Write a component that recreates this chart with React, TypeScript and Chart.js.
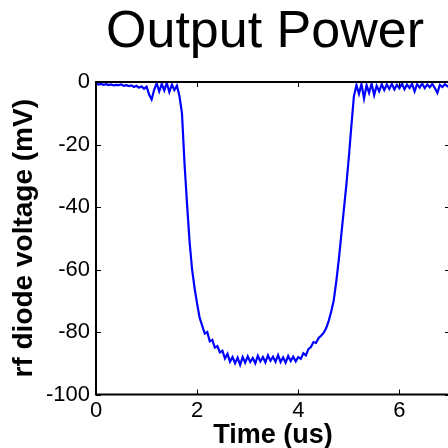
import React, { useEffect, useRef } from "react";
import { Chart, registerables } from "chart.js";

Chart.register(...registerables);

const TITLE = "Output Power";
const X_LABEL = "Time (us)";
const Y_LABEL = "rf diode voltage (mV)";
const FONT = "'Liberation Sans', Arial, Helvetica, sans-serif";

const TIME_US = [
  0.0, 0.05, 0.1, 0.15, 0.2, 0.25, 0.3, 0.35, 0.4, 0.45, 0.5, 0.55, 0.6, 0.65,
  0.7, 0.75, 0.8, 0.85, 0.9, 0.95, 1.0, 1.05, 1.1, 1.15, 1.2, 1.25, 1.3, 1.35,
  1.4, 1.45, 1.5, 1.55, 1.6, 1.65, 1.7, 1.75, 1.8, 1.85, 1.9, 1.95, 2.0, 2.05,
  2.1, 2.15, 2.2, 2.25, 2.3, 2.35, 2.4, 2.45, 2.5, 2.55, 2.6, 2.65, 2.7, 2.75,
  2.8, 2.85, 2.9, 2.95, 3.0, 3.05, 3.1, 3.15, 3.2, 3.25, 3.3, 3.35, 3.4, 3.45,
  3.5, 3.55, 3.6, 3.65, 3.7, 3.75, 3.8, 3.85, 3.9, 3.95, 4.0, 4.05, 4.1, 4.15,
  4.2, 4.25, 4.3, 4.35, 4.4, 4.45, 4.5, 4.55, 4.6, 4.65, 4.7, 4.75, 4.8, 4.85,
  4.9, 4.95, 5.0, 5.05, 5.1, 5.15, 5.2, 5.25, 5.3, 5.35, 5.4, 5.45, 5.5, 5.55,
  5.6, 5.65, 5.7, 5.75, 5.8, 5.85, 5.9, 5.95, 6.0, 6.05, 6.1, 6.15, 6.2, 6.25,
  6.3, 6.35, 6.4, 6.45, 6.5, 6.55, 6.6, 6.65, 6.7, 6.75, 6.8, 6.85, 6.9, 6.95,
  7.0,
];

const VOLTAGE_MV = [
  -0.4, -0.8, -0.6, -0.9, -0.7, -1.0, -0.8, -1.1, -0.9, -1.0, -0.8, -1.2, -1.0, -1.3,
  -1.1, -1.6, -1.2, -1.8, -1.4, -2.2, -1.5, -4.0, -5.6, -2.5, -0.4, -3.0, -0.6, -2.7,
  -0.3, -3.2, -0.8, -2.6, -1.2, -4.5, -10, -26, -39, -51, -60, -66, -71, -75.5,
  -78, -80.5, -80, -83, -82.5, -85, -84.5, -86.5, -86, -88.5, -87, -89.5, -88, -90,
  -88.2, -90.5, -88, -89.8, -87.8, -89.6, -88.3, -90, -87.6, -89.4, -88, -89.7, -87.5, -89.2,
  -87.9, -89.5, -87.4, -89.6, -88.1, -89.8, -87.7, -89.3, -87.9, -89.4, -88, -88.6, -86.8, -87.5,
  -85.5, -84.8, -83.2, -83.5, -82, -81.2, -80.3, -78.8, -76.5, -73.5, -70, -64, -57, -49,
  -41, -33, -24, -14, -4.5, -1.0, -3.8, -0.6, -5.3, -1.0, -3.5, -0.5, -4.2, -1.2,
  -3.0, -0.7, -2.6, -0.8, -2.2, -0.6, -2.4, -0.9, -2.0, -0.5, -2.3, -0.8, -1.9, -0.6,
  -3.0, -0.7, -1.8, -0.5, -2.0, -0.8, -1.7, -0.6, -1.9, -3.5, -0.9, -1.6, -0.7, -1.4,
  -0.8,
];

const X_MIN = 0;
const X_MAX = 7;
const X_STEP = 2;
const Y_MIN = -100;
const Y_MAX = 0;
const Y_STEP = 20;

const framePlugin = {
  id: "matlabFrame",
  afterDatasetsDraw(chart: any) {
    const { ctx, chartArea, scales } = chart;
    const { left, right, top, bottom } = chartArea;
    const x = scales.x;
    const y = scales.y;
    ctx.save();
    ctx.strokeStyle = "#000";
    ctx.lineWidth = 1;
    ctx.beginPath();
    const len = 5;
    x.ticks.forEach((t: any) => {
      const px = Math.round(x.getPixelForValue(t.value)) + 0.5;
      ctx.moveTo(px, bottom);
      ctx.lineTo(px, bottom - len);
      ctx.moveTo(px, top);
      ctx.lineTo(px, top + len);
    });
    y.ticks.forEach((t: any) => {
      const py = Math.round(y.getPixelForValue(t.value)) + 0.5;
      ctx.moveTo(left, py);
      ctx.lineTo(left + len, py);
      ctx.moveTo(right, py);
      ctx.lineTo(right - len, py);
    });
    ctx.stroke();
    ctx.lineWidth = 2;
    ctx.beginPath();
    ctx.rect(left, top, right - left, bottom - top);
    ctx.stroke();
    // title
    ctx.fillStyle = "#000";
    ctx.font = `52px ${FONT}`;
    ctx.textAlign = "center";
    ctx.textBaseline = "alphabetic";
    ctx.fillText(TITLE, (left + right) / 2 - 8, 47);
    ctx.restore();
  },
};

export default function App() {
  const ref = useRef<HTMLCanvasElement | null>(null);

  useEffect(() => {
    const canvas = ref.current;
    if (!canvas) return;
    const chart = new Chart(canvas, {
      type: "line",
      data: {
        datasets: [
          {
            data: TIME_US.map((t, i) => ({ x: t, y: VOLTAGE_MV[i] })),
            borderColor: "#0000ff",
            backgroundColor: "#0000ff",
            borderWidth: 2.2,
            pointRadius: 0,
            tension: 0,
            fill: false,
          },
        ],
      },
      options: {
        responsive: false,
        animation: false,
        devicePixelRatio: 1,
        layout: { padding: { left: 0, right: 10, top: 82, bottom: 0 } },
        plugins: {
          legend: { display: false },
          title: { display: false },
          tooltip: { enabled: false },
        },
        scales: {
          x: {
            type: "linear",
            min: X_MIN,
            max: X_MAX,
            ticks: {
              stepSize: X_STEP,
              includeBounds: false,
              color: "#000",
              font: { family: FONT, size: 22 },
              padding: 3,
              maxRotation: 0,
              autoSkip: false,
            },
            grid: { display: false, drawTicks: false },
            border: { display: false },
            title: {
              display: true,
              text: X_LABEL,
              color: "#000",
              font: { family: FONT, size: 27, weight: "bold", lineHeight: 0.95 },
              padding: { top: 0, bottom: 0 },
            },
            afterFit: (s: any) => {
              s.height = 53.5;
            },
          },
          y: {
            type: "linear",
            min: Y_MIN,
            max: Y_MAX,
            ticks: {
              stepSize: Y_STEP,
              color: "#000",
              font: { family: FONT, size: 22 },
              padding: 6,
            },
            grid: { display: false, drawTicks: false },
            border: { display: false },
            title: {
              display: true,
              text: Y_LABEL,
              color: "#000",
              font: { family: FONT, size: 28, weight: "bold", lineHeight: 1 },
              padding: { top: 10, bottom: 0 },
            },
            afterFit: (s: any) => {
              s.width = 96;
            },
          },
        },
      },
      plugins: [framePlugin],
    });
    return () => chart.destroy();
  }, []);

  return (
    <div
      style={{
        position: "fixed",
        left: 0,
        top: 0,
        width: 448,
        height: 448,
        overflow: "hidden",
        background: "#fff",
      }}
    >
      <canvas ref={ref} width={460} height={448} style={{ display: "block" }} />
    </div>
  );
}
